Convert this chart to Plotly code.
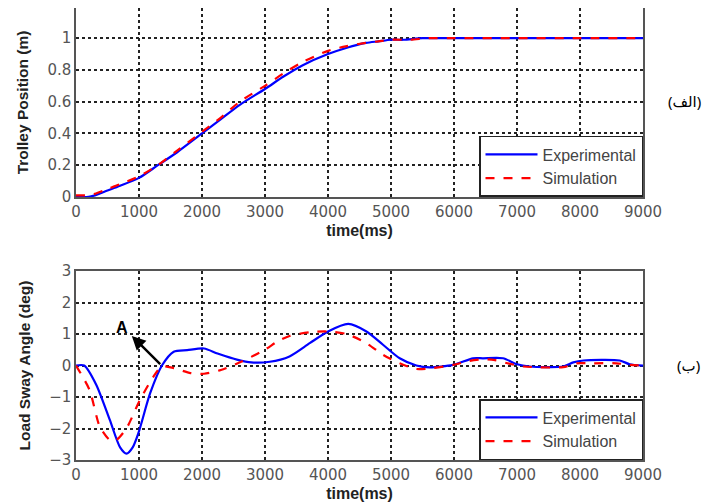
import plotly.graph_objects as go

# ---- Data: Trolley position (m) ----
t_pos_exp = [0, 100, 200, 300, 500, 700, 1000, 1300, 1600, 2000, 2300, 2600, 3000, 3300, 3600, 4000, 4300, 4600, 4800, 5000, 5200, 5500, 6000, 7000, 8000, 9000]
pos_exp   = [0.0, 0.0, 0.0, 0.01, 0.04, 0.07, 0.12, 0.2, 0.28, 0.40, 0.49, 0.58, 0.68, 0.76, 0.83, 0.90, 0.94, 0.97, 0.98, 0.99, 0.99, 1.0, 1.0, 1.0, 1.0, 1.0]
t_pos_sim = [0, 100, 200, 300, 500, 700, 1000, 1300, 1600, 2000, 2300, 2600, 3000, 3300, 3600, 4000, 4300, 4600, 4800, 5000, 5300, 5600, 6000, 7000, 8000, 9000]
pos_sim   = [0.01, 0.01, 0.01, 0.02, 0.05, 0.08, 0.13, 0.2, 0.29, 0.41, 0.50, 0.60, 0.70, 0.78, 0.85, 0.92, 0.95, 0.97, 0.98, 0.99, 0.99, 1.0, 1.0, 1.0, 1.0, 1.0]

# ---- Data: Load sway angle (deg) ----
t_ang_exp = [0, 130, 321, 535, 700, 802, 900, 990, 1177, 1364, 1551, 1765, 2033, 2247, 2568, 2782, 3075, 3389, 3710, 4000, 4322, 4610, 4873, 5138, 5402, 5614, 5986, 6302, 6460, 6778, 7000, 7202, 7735, 7894, 8053, 8630, 8789, 9000]
ang_exp   = [0.0, 0.0, -0.61, -1.72, -2.6, -2.8, -2.6, -2.15, -0.88, 0.0, 0.44, 0.49, 0.54, 0.38, 0.18, 0.1, 0.12, 0.29, 0.71, 1.08, 1.32, 1.08, 0.66, 0.23, 0.0, -0.06, 0.02, 0.23, 0.23, 0.23, 0.04, -0.03, -0.03, 0.1, 0.16, 0.16, 0.04, 0.0]
t_ang_sim = [0, 214, 375, 535, 642, 802, 1016, 1230, 1364, 1551, 1819, 2033, 2300, 2621, 2996, 3210, 3389, 3710, 4000, 4296, 4610, 4873, 5138, 5402, 5667, 5986, 6249, 6460, 6650, 6873, 7100, 7735, 7947, 8160, 8583, 8789, 9000]
ang_sim   = [0.0, -0.77, -1.93, -2.36, -2.36, -1.99, -1.09, -0.35, -0.03, -0.08, -0.24, -0.26, -0.14, 0.12, 0.5, 0.78, 0.94, 1.06, 1.08, 1.0, 0.71, 0.34, 0.07, -0.11, -0.08, 0.02, 0.15, 0.2, 0.17, 0.06, -0.03, -0.05, 0.07, 0.07, 0.07, 0.02, 0.0]

x_ticks = [0, 1000, 2000, 3000, 4000, 5000, 6000, 7000, 8000, 9000]
y1_ticks = [0, 0.2, 0.4, 0.6, 0.8, 1]
y1_labels = ["0", "0.2", "0.4", "0.6", "0.8", "1"]
y2_ticks = [-3, -2, -1, 0, 1, 2, 3]

BLUE = "#0000ff"
RED = "#ff0000"
TICKC = "#555555"
FONT = "Liberation Sans, Arial, sans-serif"
TICKFONT = "DejaVu Sans, Verdana, sans-serif"

fig = go.Figure()
fig.add_trace(go.Scatter(x=t_pos_exp, y=pos_exp, mode="lines", name="Experimental", line_shape="spline",
                         line=dict(color=BLUE, width=2.2, smoothing=0.8), xaxis="x", yaxis="y", legend="legend"))
fig.add_trace(go.Scatter(x=t_pos_sim, y=pos_sim, mode="lines", name="Simulation", line_shape="spline",
                         line=dict(color=RED, width=2.2, dash="dash", smoothing=0.8), xaxis="x", yaxis="y", legend="legend"))
fig.add_trace(go.Scatter(x=t_ang_exp, y=ang_exp, mode="lines", name="Experimental", line_shape="spline",
                         line=dict(color=BLUE, width=2.2, smoothing=0.7), xaxis="x2", yaxis="y2", legend="legend2"))
fig.add_trace(go.Scatter(x=t_ang_sim, y=ang_sim, mode="lines", name="Simulation", line_shape="spline",
                         line=dict(color=RED, width=2.2, dash="dash", smoothing=0.7), xaxis="x2", yaxis="y2", legend="legend2"))

axis_common = dict(showgrid=True, gridcolor="#222222", griddash="dot", gridwidth=1.5,
                   showline=True, linecolor="#555555", linewidth=1.5, mirror=True, automargin=False,
                   zeroline=False, ticks="", tickfont=dict(size=15, color=TICKC, family=TICKFONT))
xtitle_font = dict(size=16, color="#222222", family=FONT)
ytitle_font = dict(size=15.5, color="#222222", family=FONT)
legend_common = dict(xanchor="right", yanchor="bottom", bgcolor="white",
                     bordercolor="#222222", borderwidth=1.5, font=dict(size=16, color="#444444", family=FONT),
                     tracegroupgap=0, itemwidth=52)

fig.update_layout(
    width=697, height=495,
    margin=dict(l=68, r=62, t=0, b=43, autoexpand=False),
    paper_bgcolor="white", plot_bgcolor="white",
    font=dict(family=FONT),
    xaxis=dict(domain=[0, 1], anchor="y", range=[0, 9000], tickvals=x_ticks,
               title=dict(text="<b>time(ms)</b>", font=xtitle_font, standoff=5), **axis_common),
    yaxis=dict(domain=[0.582, 1.0], anchor="x", range=[0, 1.19], tickvals=y1_ticks, ticktext=y1_labels,
               title=dict(text="<b>Trolley Position (m)</b>", font=ytitle_font), **axis_common),
    xaxis2=dict(domain=[0, 1], anchor="y2", range=[0, 9000], tickvals=x_ticks,
                title=dict(text="<b>time(ms)</b>", font=xtitle_font, standoff=5), **axis_common),
    yaxis2=dict(domain=[0.0, 0.418], anchor="x2", range=[-3, 3], tickvals=y2_ticks,
                title=dict(text="<b>Load Sway Angle (deg)</b>", font=ytitle_font), **axis_common),
    legend=dict(x=1, y=0.582, **legend_common),
    legend2=dict(x=1, y=0.0, **legend_common),
    showlegend=True,
)

fig.add_annotation(x=886, y=0.94, ax=1360, ay=0, xref="x2", yref="y2", axref="x2", ayref="y2",
                   showarrow=True, arrowhead=2, arrowsize=1.1, arrowwidth=2.5, arrowcolor="black", text="")
fig.add_annotation(x=730, y=1.2, xref="x2", yref="y2", text="<b>A</b>", showarrow=False,
                   font=dict(size=16, color="black", family=FONT))

fig.add_annotation(x=1.074, y=0.794, xref="paper", yref="paper", text="(الف)", showarrow=False,
                   font=dict(size=15, color="black", family="Noto Sans, DejaVu Sans"),
                   xanchor="center", yanchor="middle")
fig.add_annotation(x=1.080, y=0.210, xref="paper", yref="paper", text="(ب)", showarrow=False,
                   font=dict(size=15, color="black", family="Noto Sans, DejaVu Sans"),
                   xanchor="center", yanchor="middle")

fig.write_html("out.html")
